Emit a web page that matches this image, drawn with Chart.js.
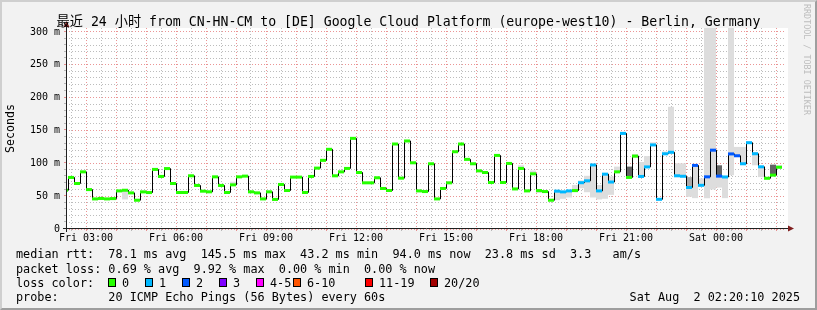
<!DOCTYPE html>
<html>
<head>
<meta charset="utf-8">
<script src="https://cdn.jsdelivr.net/npm/chart.js@4.4.0/dist/chart.umd.min.js"></script>
<style>
  body { margin: 0; background: #fff; }
  #wrap { position: relative; width: 817px; height: 310px; background: #f2f2f2; overflow: hidden;
          font-family: "DejaVu Sans Mono", "Noto Sans CJK SC", monospace; color: #000; }
  #chart { position: absolute; left: 0; top: 0; }
  .frame { position: absolute; left: 0; top: 0; width: 817px; height: 310px; box-sizing: border-box;
           border: 2px solid; border-color: #cfcfcf #9e9e9e #9e9e9e #cfcfcf; pointer-events: none; }
  .title { position: absolute; left: 0; width: 817px; top: 14px; text-align: center; font-size: 13.2px; line-height: 15px; white-space: pre; }
  .row { position: absolute; left: 16px; font-size: 11.8px; line-height: 14px; white-space: pre; }
  .lbl { position: absolute; font-size: 11.8px; line-height: 14px; white-space: pre; }
  .box { position: absolute; width: 6px; height: 7px; border: 1px solid #000; }
  .mark { position: absolute; left: 802px; top: 4px; writing-mode: vertical-rl; font-size: 8.4px; line-height: 10px; color: #bdbdbd; }
</style>
</head>
<body>
<div id="wrap">
  <canvas id="chart" width="817" height="310"></canvas>
  <div class="title">最近 24 小时 from CN-HN-CM to [DE] Google Cloud Platform (europe-west10) - Berlin, Germany</div>
  <div class="mark">RRDTOOL / TOBI OETIKER</div>
  <div class="row" style="top:247px">median rtt:  78.1 ms avg  145.5 ms max  43.2 ms min  94.0 ms now  23.8 ms sd  3.3   am/s</div>
  <div class="row" style="top:262px">packet loss: 0.69 % avg  9.92 % max  0.00 % min  0.00 % now</div>
  <div class="row" style="top:276px">loss color:</div>
  <div id="losslegend"></div>
  <div class="row" style="top:290px">probe:       20 ICMP Echo Pings (56 Bytes) every 60s</div>
  <div class="lbl" style="top:290px; right:17px">Sat Aug  2 02:20:10 2025</div>
  <div class="frame"></div>
</div>
<script>
// median rtt (ms) per 12 minute slot, first slot only partly visible
const medians = [
  59, 78.5, 69.3, 87, 60, 45.8, 46.5, 45.8, 46.3, 58,
  59, 55, 43.8, 56.5, 55.5, 90.7, 80, 92, 69.3, 55.6,
  55.6, 81, 66.3, 57.6, 56.6, 79.4, 66.3, 55.6, 67.2, 79.4,
  80.5, 56.6, 55, 45.8, 56.6, 45, 67.8, 58.6, 79, 79,
  55.6, 80, 92.7, 104.5, 121.3, 81, 87, 92.2, 138, 86,
  70.3, 70.3, 78, 61.7, 58.6, 129.4, 77.4, 134, 100.8, 58,
  57, 99.3, 45.8, 61.7, 70.3, 117.6, 129.4, 106, 99.3, 88.5,
  86, 70.8, 112, 70.8, 99.8, 61, 92.2, 58, 84, 58.5,
  57, 43.8, 57.6, 56.5, 58, 58.5, 70.5, 73.3, 97.5, 58,
  83.5, 71.5, 87, 145.5, 78.5, 111, 80, 94.5, 128, 45.2,
  114.5, 116.8, 81, 80.3, 63.2, 96.8, 66.5, 79.4, 120, 80.5,
  79.2, 114.3, 111.5, 99.3, 131.4, 114.6, 94.7, 77.2, 82, 94
];

// loss color class per slot (0 = no loss, 1 = 1 lost, 2 = 2 lost)
const lossClass = [
  0, 0, 0, 0, 0, 0, 0, 0, 0, 0,  0, 0, 0, 0, 0, 0, 0, 0, 0, 0,
  0, 0, 0, 0, 0, 0, 0, 0, 0, 0,  0, 0, 0, 0, 0, 0, 0, 0, 0, 0,
  0, 0, 0, 0, 0, 0, 0, 0, 0, 0,  0, 0, 0, 0, 0, 0, 0, 0, 0, 0,
  0, 0, 0, 0, 0, 0, 0, 0, 0, 0,  0, 0, 0, 0, 0, 0, 0, 0, 0, 0,
  0, 0, 1, 1, 1, 0, 1, 1, 1, 1,  1, 1, 0, 1, 0, 0, 1, 1, 1, 1,
  1, 1, 1, 1, 1, 2, 1, 2, 2, 2,  1, 2, 2, 1, 1, 1, 1, 0, 0, 0
];

// smoke: [slot, low ms, high ms]
const smokeLight = [
  [10, 45, 59], [28, 66, 72], [76, 90, 97], [78, 83, 89], [79, 55, 59],
  [82, 44, 58], [83, 46, 57], [84, 48, 58], [85, 56, 67], [86, 62, 74],
  [87, 56, 81], [88, 48, 98], [89, 45, 67], [90, 46, 85], [91, 52, 80],
  [92, 86, 95], [93, 144, 148], [95, 108, 114], [96, 79, 102], [97, 94, 111],
  [98, 127, 132], [100, 113, 118], [101, 115, 186], [102, 80, 100], [103, 80, 100],
  [104, 49, 64], [105, 47, 95], [106, 66, 77], [107, 47, 310], [108, 60, 310],
  [109, 63, 80], [110, 47, 79], [111, 82, 310], [112, 111, 125], [113, 99, 125],
  [114, 131, 133], [115, 97, 117], [116, 79, 95], [119, 94, 97]
];
const smokeMid = [[104, 64, 79]];
const smokeDark = [[94, 79, 95], [109, 80, 97], [118, 82, 98]];

const tickLabels = ['Fri 03:00', 'Fri 06:00', 'Fri 09:00', 'Fri 12:00', 'Fri 15:00', 'Fri 18:00', 'Fri 21:00', 'Sat 00:00'];
const lossLabels = ['0', '1', '2', '3', '4-5', '6-10', '11-19', '20/20'];
const lossColors = ['#26ff00', '#00b8ff', '#0059ff', '#7e00ff', '#ff00ff', '#ff5500', '#ff0000', '#a10000'];

// minutes since Fri 02:20, the left edge of the graph
const slotMinutes = 12;
const firstSlotStart = -8;
const slotCenter = i => firstSlotStart + slotMinutes * (i + 0.5);
const firstLabelMinute = 40;   // Fri 03:00

const GRID = 'rgba(143,143,143,0.6)';
const MGRID = 'rgba(222,79,79,0.6)';

// legend boxes for loss color
const boxX = [108, 145, 182, 219, 256, 293, 365, 430];
document.getElementById('losslegend').innerHTML = lossLabels.map((l, k) =>
  `<div class="box" style="left:${boxX[k]}px; top:278px; background:${lossColors[k]}"></div>` +
  `<div class="lbl" style="left:${boxX[k] + 14}px; top:276px">${l}</div>`).join('');

const toRange = list => list.map(([i, lo, hi]) => ({ x: slotCenter(i), y: [lo, hi] }));

const rrdFrame = {
  id: 'rrdFrame',
  beforeDraw(chart) {
    const { ctx, chartArea: a } = chart;
    ctx.save();
    ctx.fillStyle = '#fff';
    ctx.fillRect(a.left, a.top, a.right - a.left + 2, a.bottom - a.top);
    ctx.restore();
  },
  // shift the median line half a pixel so the steps stay sharp
  beforeDatasetDraw(chart, args) {
    if (args.index === 1) { chart.ctx.save(); chart.ctx.translate(0.5, 0); }
  },
  afterDatasetDraw(chart, args) {
    if (args.index === 1) chart.ctx.restore();
  },
  afterDraw(chart) {
    const { ctx, chartArea: a, scales } = chart;
    ctx.save();
    // small tick marks outside the axes
    ctx.lineWidth = 1;
    scales.y.ticks.forEach(t => {
      const y = Math.round(scales.y.getPixelForValue(t.value)) - 0.5;
      ctx.strokeStyle = t.value % 50 ? GRID : MGRID;
      ctx.beginPath(); ctx.moveTo(a.left - 2, y); ctx.lineTo(a.left, y); ctx.stroke();
    });
    scales.x.ticks.forEach(t => {
      const x = Math.round(scales.x.getPixelForValue(t.value)) + 0.5;
      ctx.strokeStyle = (t.value - firstLabelMinute) % 60 ? GRID : MGRID;
      ctx.beginPath(); ctx.moveTo(x, a.bottom); ctx.lineTo(x, a.bottom + 2); ctx.stroke();
    });
    // axes
    ctx.strokeStyle = 'rgb(31,31,31)';
    ctx.beginPath();
    ctx.moveTo(a.left - 3, a.bottom - 0.5); ctx.lineTo(a.right + 4, a.bottom - 0.5);
    ctx.moveTo(a.left + 0.5, a.bottom + 3); ctx.lineTo(a.left + 0.5, a.top - 6);
    ctx.stroke();
    // arrows
    ctx.fillStyle = 'rgb(128,31,31)';
    ctx.beginPath();
    ctx.moveTo(a.right + 2, a.bottom - 3.5); ctx.lineTo(a.right + 8, a.bottom - 0.5); ctx.lineTo(a.right + 2, a.bottom + 2.5);
    ctx.closePath(); ctx.fill();
    ctx.beginPath();
    ctx.moveTo(a.left - 2.5, a.top - 1); ctx.lineTo(a.left + 0.5, a.top - 7); ctx.lineTo(a.left + 3.5, a.top - 1);
    ctx.closePath(); ctx.fill();
    ctx.restore();
  }
};

Chart.defaults.font.family = '"DejaVu Sans Mono", monospace';
Chart.defaults.color = '#000';

const barOpts = { grouped: false, barPercentage: 1, categoryPercentage: 1, borderWidth: 0, inflateAmount: 0 };

new Chart(document.getElementById('chart'), {
  type: 'bar',
  data: {
    datasets: [
      {
        ...barOpts, order: 0,
        data: medians.map((m, i) => ({ x: slotCenter(i), y: [m - 2.3, m + 2.3] })),
        backgroundColor: medians.map((m, i) => lossColors[lossClass[i]])
      },
      {
        type: 'line', order: 1,
        data: medians.map((m, i) => ({ x: slotCenter(i), y: m })),
        stepped: 'middle', borderColor: '#000', borderWidth: 1, pointRadius: 0
      },
      { ...barOpts, order: 2, data: toRange(smokeDark), backgroundColor: 'rgb(100,100,100)' },
      { ...barOpts, order: 3, data: toRange(smokeMid), backgroundColor: 'rgb(170,170,170)' },
      { ...barOpts, order: 4, data: toRange(smokeLight), backgroundColor: 'rgb(221,221,221)' }
    ]
  },
  options: {
    responsive: false,
    animation: false,
    devicePixelRatio: 1,
    layout: { padding: { left: 0, top: 28, right: 31, bottom: 61 } },
    plugins: { legend: { display: false }, tooltip: { enabled: false }, title: { display: false } },
    scales: {
      x: {
        type: 'linear', min: 0, max: 1440, offset: false,
        afterBuildTicks: s => {
          const t = [];
          for (let v = 10; v <= 1440; v += 30) t.push({ value: v });
          s.ticks = t;
        },
        afterFit: s => { s.height = 20; },
        ticks: {
          autoSkip: false, maxRotation: 0, minRotation: 0, padding: 3, font: { size: 10 },
          callback: v => (v - firstLabelMinute) % 180 === 0 ? tickLabels[(v - firstLabelMinute) / 180] : ''
        },
        grid: {
          offset: false, drawTicks: false, lineWidth: 1,
          color: c => (c.tick.value - firstLabelMinute) % 60 ? GRID : MGRID
        },
        border: { display: false, dash: [1, 2] }
      },
      y: {
        min: 0, max: 306,
        afterBuildTicks: s => {
          const t = [];
          for (let v = 0; v <= 300; v += 10) t.push({ value: v });
          s.ticks = t;
        },
        afterFit: s => { s.width = 66; },
        ticks: {
          autoSkip: false, padding: 6, font: { size: 10 },
          callback: v => v % 50 ? '' : (v === 0 ? '0' : v + ' m')
        },
        grid: {
          drawTicks: false, lineWidth: 1,
          color: c => c.tick.value % 50 ? GRID : MGRID
        },
        border: { display: false, dash: [1, 2] },
        title: { display: true, text: 'Seconds', font: { size: 11.6 }, padding: { top: 4, bottom: 0 } }
      }
    }
  },
  plugins: [rrdFrame]
});
</script>
</body>
</html>
